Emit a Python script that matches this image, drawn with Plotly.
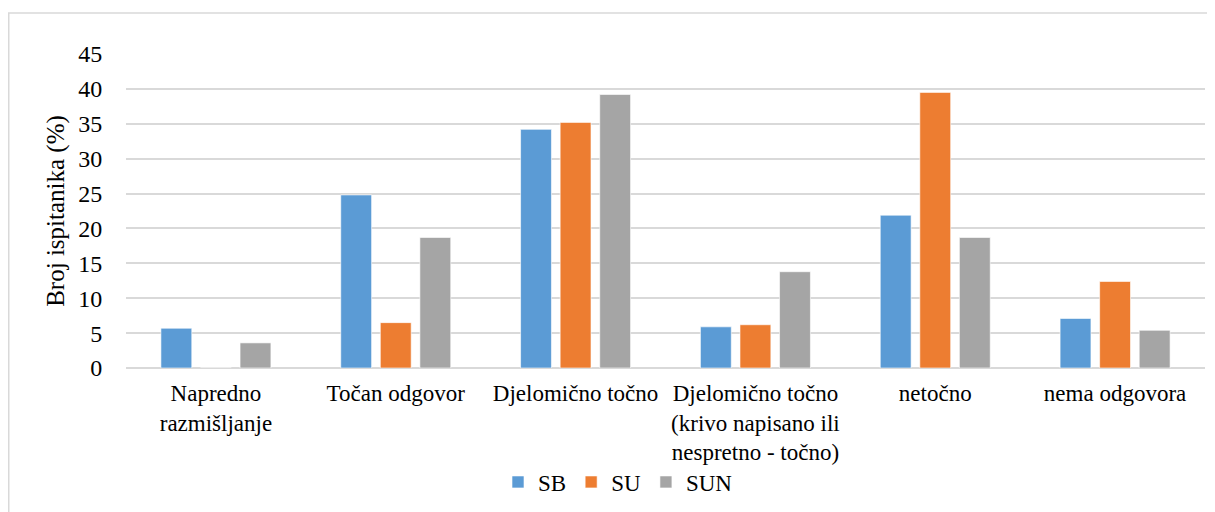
import plotly.graph_objects as go

categorias = [
    "Napredno<br>razmišljanje",
    "Točan odgovor",
    "Djelomično točno",
    "Djelomično točno<br>(krivo napisano ili<br>nespretno - točno)",
    "netočno",
    "nema odgovora",
]
sb = [5.7, 24.8, 34.2, 5.9, 21.9, 7.1]
su = [0, 6.5, 35.2, 6.2, 39.5, 12.4]
sun = [3.6, 18.7, 39.2, 13.8, 18.7, 5.4]
y_ticks = [0, 5, 10, 15, 20, 25, 30, 35, 40, 45]

SERIES = [("SB", sb, "#5B9BD5"), ("SU", su, "#ED7D31"), ("SUN", sun, "#A5A5A5")]
FONT = "Liberation Serif"

# the page body adds 8px of margin, so the layout is shifted back by that much
L, R, T, B = 118, 18, 46, 152
PLOT_W = 1215 - L - R
PLOT_H = 512 - T - B

fig = go.Figure()
for nombre, valores, color in SERIES:
    fig.add_trace(
        go.Bar(
            x=categorias,
            y=valores,
            name=nombre,
            marker=dict(color=color, line=dict(color="rgba(255,255,255,0.6)", width=1)),
        )
    )

fig.update_layout(
    width=1215,
    height=512,
    barmode="group",
    bargap=0.34,
    bargroupgap=0.22,
    plot_bgcolor="white",
    paper_bgcolor="white",
    font=dict(family=FONT, size=23, color="black"),
    margin=dict(l=L, r=R, t=T, b=B),
    showlegend=True,
    legend=dict(
        orientation="h",
        x=(610 - L) / PLOT_W,
        xanchor="center",
        y=-(474 - T - PLOT_H) / PLOT_H,
        yanchor="middle",
        font=dict(size=23),
        itemwidth=30,
        bgcolor="rgba(0,0,0,0)",
        traceorder="normal",
    ),
    xaxis=dict(
        showgrid=False,
        ticks="outside",
        ticklen=4,
        tickcolor="rgba(0,0,0,0)",
        tickfont=dict(size=23),
        automargin=False,
    ),
    yaxis=dict(
        range=[0, 45],
        tickvals=y_ticks,
        showgrid=True,
        gridcolor="#D9D9D9",
        gridwidth=1.5,
        zeroline=True,
        zerolinecolor="#D9D9D9",
        zerolinewidth=1.5,
        ticks="outside",
        ticklen=18,
        tickcolor="rgba(0,0,0,0)",
        tickfont=dict(size=24),
        title=dict(text="Broj ispitanika (%)", font=dict(size=25), standoff=6),
        automargin=False,
    ),
    shapes=[
        dict(
            type="rect",
            xref="paper",
            yref="paper",
            x0=(0.75 - L) / PLOT_W,
            x1=1.05,
            y0=-0.6,
            y1=(T + PLOT_H - 5) / PLOT_H,
            line=dict(color="#D9D9D9", width=1.5),
            layer="below",
        )
    ],
)

fig.write_html("out.html")
